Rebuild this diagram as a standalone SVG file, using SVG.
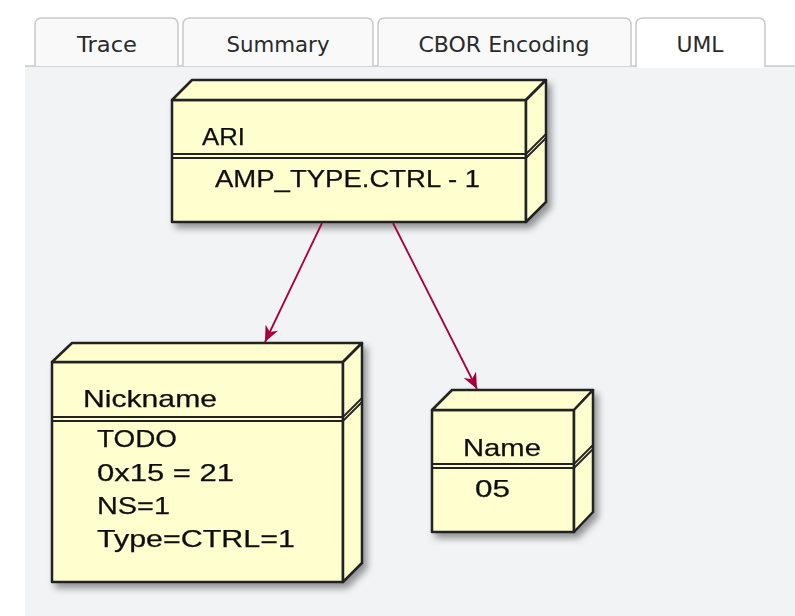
<svg xmlns="http://www.w3.org/2000/svg" width="795" height="616" viewBox="0 0 795 616">
<defs>
<style>
.tab{fill:#f9f9f9;stroke:#c9c9c9;stroke-width:1.5}
.tab.active{fill:#ffffff}
.tabt{font-family:"DejaVu Sans",Verdana,sans-serif;font-size:22px;fill:#2a2a2a;text-anchor:middle}
.face{fill:#FEFECE;stroke:#222;stroke-width:2.5;stroke-linejoin:round}
.sep{stroke:#222;stroke-width:1.8;fill:none}
.t{font-family:"Liberation Sans",Arial,sans-serif;font-size:24px;fill:#111;stroke:#111;stroke-width:0.25}
.edge{stroke:#A80036;stroke-width:1.8;fill:none}
</style>
<marker id="ah" viewBox="0 0 16 14" refX="16" refY="7" markerWidth="16" markerHeight="14" markerUnits="userSpaceOnUse" orient="auto">
<path d="M0,0 L16,7 L0,14 L5,7 Z" fill="#A80036"/>
</marker>
<filter id="sh" x="-10%" y="-10%" width="130%" height="130%">
<feDropShadow dx="4" dy="5" stdDeviation="3.5" flood-color="#000" flood-opacity="0.4"/>
</filter>
</defs>
<rect x="0" y="0" width="795" height="616" fill="#ffffff"/>
<rect x="25" y="66" width="770" height="550" fill="#f2f3f5"/>
<g id="tabs">
<line x1="25" y1="66" x2="795" y2="66" stroke="#c9c9c9" stroke-width="1.5"/>
<path class="tab" d="M35,66 V25 Q35,18 42,18 H171 Q178,18 178,25 V66"/>
<path class="tab" d="M183,66 V25 Q183,18 190,18 H366 Q373,18 373,25 V66"/>
<path class="tab" d="M378,66 V25 Q378,18 385,18 H624 Q631,18 631,25 V66"/>
<path class="tab active" d="M636,67 V25 Q636,18 643,18 H758 Q765,18 765,25 V67"/>
<rect x="637" y="64" width="127" height="4" fill="#ffffff"/>
<text class="tabt" x="107" y="52" textLength="60" lengthAdjust="spacingAndGlyphs">Trace</text>
<text class="tabt" x="278" y="52" textLength="103" lengthAdjust="spacingAndGlyphs">Summary</text>
<text class="tabt" x="504" y="52" textLength="171" lengthAdjust="spacingAndGlyphs">CBOR Encoding</text>
<text class="tabt" x="700" y="52" textLength="47" lengthAdjust="spacingAndGlyphs">UML</text>
</g>
<g id="node-ari" filter="url(#sh)">
<rect class="face" x="172" y="100" width="354" height="122"/>
<polygon class="face" points="172,100 192,80 546,80 526,100"/>
<polygon class="face" points="526,100 546,80 546,202 526,222"/>
<line class="sep" x1="172" y1="154" x2="526" y2="154"/>
<line class="sep" x1="172" y1="158" x2="526" y2="158"/>
<line class="sep" x1="526" y1="154" x2="546" y2="134"/>
<line class="sep" x1="526" y1="158" x2="546" y2="138"/>
<text class="t" x="202" y="145" textLength="43" lengthAdjust="spacingAndGlyphs">ARI</text>
<text class="t" x="215" y="187" textLength="265" lengthAdjust="spacingAndGlyphs">AMP_TYPE.CTRL - 1</text>
</g>
<g id="node-nickname" filter="url(#sh)">
<rect class="face" x="52" y="362" width="291" height="220"/>
<polygon class="face" points="52,362 72,343 362,343 343,362"/>
<polygon class="face" points="343,362 362,343 362,563 343,582"/>
<line class="sep" x1="52" y1="417" x2="343" y2="417"/>
<line class="sep" x1="52" y1="421" x2="343" y2="421"/>
<line class="sep" x1="343" y1="417" x2="362" y2="398"/>
<line class="sep" x1="343" y1="421" x2="362" y2="402"/>
<text class="t" x="83" y="407" textLength="134" lengthAdjust="spacingAndGlyphs">Nickname</text>
<text class="t" x="97" y="447" textLength="80" lengthAdjust="spacingAndGlyphs">TODO</text>
<text class="t" x="97" y="481" textLength="137" lengthAdjust="spacingAndGlyphs">0x15 = 21</text>
<text class="t" x="97" y="514" textLength="73" lengthAdjust="spacingAndGlyphs">NS=1</text>
<text class="t" x="97" y="547" textLength="198" lengthAdjust="spacingAndGlyphs">Type=CTRL=1</text>
</g>
<g id="node-name" filter="url(#sh)">
<rect class="face" x="432" y="410" width="142" height="122"/>
<polygon class="face" points="432,410 452,390 593,390 574,410"/>
<polygon class="face" points="574,410 593,390 593,512 574,532"/>
<line class="sep" x1="432" y1="464" x2="574" y2="464"/>
<line class="sep" x1="432" y1="468" x2="574" y2="468"/>
<line class="sep" x1="574" y1="464" x2="593" y2="445"/>
<line class="sep" x1="574" y1="468" x2="593" y2="449"/>
<text class="t" x="463" y="456" textLength="78" lengthAdjust="spacingAndGlyphs">Name</text>
<text class="t" x="475" y="497" textLength="35" lengthAdjust="spacingAndGlyphs">05</text>
</g>
<g id="connectors">
<line class="edge" x1="322" y1="223" x2="265" y2="342" marker-end="url(#ah)"/>
<line class="edge" x1="393" y1="223" x2="477" y2="389" marker-end="url(#ah)"/>
</g>
</svg>
